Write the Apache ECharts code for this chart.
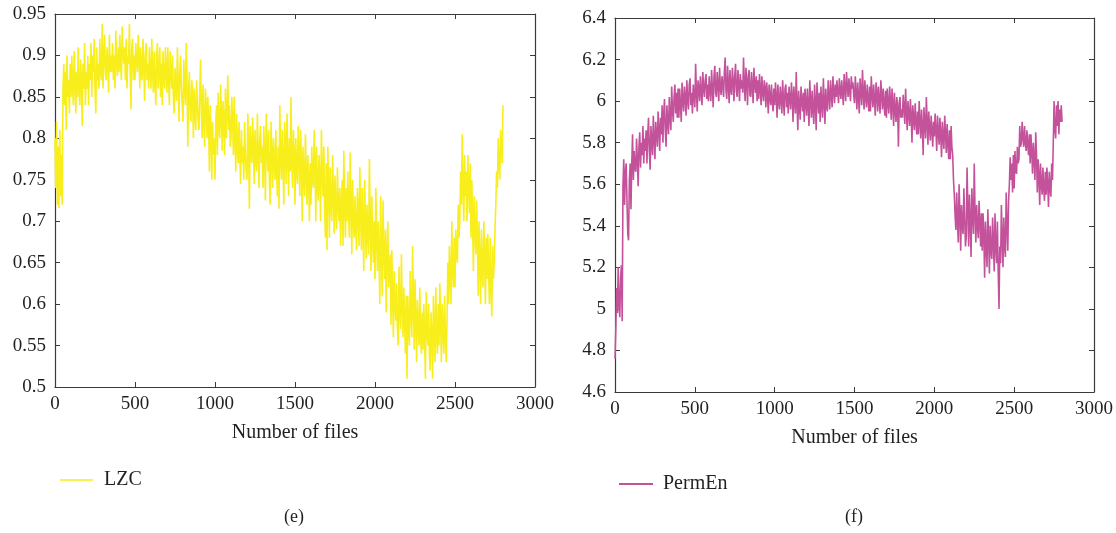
<!DOCTYPE html>
<html>
<head>
<meta charset="utf-8">
<script src="https://cdn.jsdelivr.net/npm/echarts@6/dist/echarts.min.js"></script>
<style>
html,body{margin:0;padding:0;background:#fff;}
#c{width:1116px;height:533px;}
</style>
</head>
<body>
<div id="c"></div>
<script>
// Sampling step (files between stored readings)
const fileStep = 5;

// LZC readings, one per 5 files (0 .. 2800)
const lzcValues = [
0.80,0.74,0.82,0.72,0.79,0.716,0.81,0.73,0.78,0.72, 0.86,0.89,0.84,0.88,0.81,0.90,0.85,0.87,0.83,0.89,
0.85,0.90,0.86,0.84,0.905,0.87,0.83,0.88,0.85,0.91, 0.86,0.84,0.895,0.87,0.815,0.89,0.86,0.915,0.84,0.88,
0.86,0.90,0.84,0.89,0.87,0.915,0.85,0.90,0.88,0.92, 0.86,0.83,0.91,0.87,0.89,0.86,0.92,0.88,0.87,0.938,
0.86,0.90,0.925,0.88,0.87,0.91,0.89,0.855,0.925,0.88, 0.90,0.88,0.915,0.87,0.90,0.86,0.93,0.89,0.875,0.91,
0.88,0.925,0.89,0.87,0.935,0.90,0.89,0.91,0.87,0.92, 0.86,0.90,0.89,0.938,0.88,0.835,0.91,0.92,0.87,0.90,
0.87,0.915,0.89,0.88,0.925,0.90,0.86,0.91,0.88,0.87, 0.92,0.89,0.845,0.90,0.915,0.87,0.89,0.86,0.91,0.88,
0.86,0.92,0.88,0.855,0.905,0.87,0.84,0.90,0.915,0.86, 0.88,0.91,0.85,0.89,0.84,0.905,0.87,0.86,0.91,0.88,
0.855,0.91,0.87,0.84,0.905,0.88,0.86,0.90,0.85,0.83, 0.885,0.86,0.845,0.91,0.87,0.82,0.88,0.90,0.86,0.84,
0.82,0.895,0.86,0.84,0.915,0.87,0.79,0.86,0.88,0.83, 0.82,0.87,0.85,0.80,0.86,0.83,0.81,0.87,0.84,0.82,
0.81,0.86,0.895,0.83,0.80,0.865,0.82,0.79,0.86,0.84, 0.80,0.85,0.82,0.76,0.84,0.81,0.75,0.82,0.78,0.80,
0.75,0.82,0.84,0.78,0.855,0.81,0.80,0.865,0.83,0.785, 0.845,0.82,0.78,0.86,0.80,0.83,0.876,0.81,0.84,0.79,
0.80,0.85,0.82,0.78,0.85,0.80,0.76,0.83,0.79,0.77, 0.82,0.78,0.745,0.81,0.77,0.79,0.75,0.82,0.78,0.76,
0.75,0.83,0.79,0.715,0.815,0.78,0.77,0.825,0.79,0.745, 0.81,0.77,0.76,0.83,0.78,0.74,0.80,0.815,0.77,0.79,
0.74,0.815,0.78,0.725,0.83,0.79,0.76,0.81,0.75,0.72, 0.82,0.78,0.74,0.80,0.77,0.75,0.81,0.76,0.73,0.79,
0.715,0.84,0.78,0.75,0.81,0.77,0.72,0.82,0.79,0.745, 0.83,0.78,0.73,0.80,0.76,0.85,0.77,0.74,0.81,0.78,
0.72,0.80,0.76,0.745,0.815,0.78,0.73,0.81,0.77,0.70, 0.79,0.75,0.73,0.805,0.76,0.72,0.78,0.75,0.70,0.77,
0.72,0.79,0.75,0.74,0.81,0.77,0.70,0.79,0.74,0.725, 0.78,0.75,0.70,0.81,0.76,0.73,0.79,0.72,0.68,0.77,
0.665,0.79,0.74,0.68,0.765,0.72,0.70,0.78,0.73,0.685, 0.755,0.71,0.69,0.765,0.72,0.70,0.74,0.67,0.72,0.75,
0.67,0.785,0.72,0.68,0.74,0.70,0.76,0.71,0.68,0.783, 0.72,0.66,0.75,0.70,0.68,0.73,0.69,0.665,0.74,0.71,
0.67,0.765,0.71,0.665,0.74,0.69,0.64,0.75,0.70,0.655, 0.72,0.68,0.66,0.775,0.70,0.64,0.73,0.68,0.65,0.70,
0.63,0.74,0.68,0.64,0.70,0.66,0.60,0.73,0.67,0.61, 0.725,0.66,0.63,0.69,0.59,0.66,0.70,0.62,0.64,0.66,
0.575,0.665,0.61,0.56,0.64,0.60,0.58,0.625,0.57,0.55, 0.645,0.59,0.57,0.66,0.60,0.56,0.62,0.58,0.54,0.61,
0.51,0.61,0.57,0.55,0.64,0.59,0.56,0.67,0.60,0.545, 0.63,0.58,0.53,0.605,0.57,0.55,0.62,0.56,0.54,0.59,
0.545,0.60,0.56,0.51,0.615,0.57,0.55,0.60,0.54,0.52, 0.59,0.56,0.51,0.61,0.57,0.53,0.62,0.56,0.54,0.60,
0.55,0.625,0.58,0.53,0.60,0.57,0.54,0.61,0.56,0.53, 0.58,0.65,0.60,0.67,0.63,0.60,0.70,0.64,0.62,0.68,
0.62,0.69,0.66,0.65,0.72,0.68,0.70,0.76,0.72,0.805, 0.74,0.70,0.78,0.73,0.76,0.70,0.78,0.74,0.71,0.77,
0.68,0.75,0.70,0.64,0.73,0.69,0.66,0.725,0.68,0.61, 0.70,0.65,0.60,0.69,0.64,0.62,0.70,0.66,0.60,0.68,
0.63,0.685,0.64,0.60,0.68,0.62,0.585,0.67,0.63,0.65, 0.69,0.72,0.76,0.74,0.80,0.77,0.75,0.81,0.79,0.77,
0.84
];

// PermEn readings, one per 5 files (0 .. 2800)
const permEnValues = [
4.76,4.90,5.10,4.98,5.20,5.02,4.96,5.15,5.21,4.94, 5.60,5.72,5.50,5.66,5.70,5.52,5.36,5.33,5.62,5.70,
5.48,5.70,5.84,5.62,5.76,5.68,5.66,5.82,5.72,5.59, 5.78,5.85,5.68,5.80,5.74,5.88,5.70,5.82,5.76,5.86,
5.70,5.84,5.92,5.76,5.67,5.88,5.80,5.74,5.93,5.82, 5.72,5.90,5.84,5.78,5.95,5.86,5.76,5.92,5.84,5.98,
5.80,5.94,6.01,5.86,5.78,5.98,5.90,5.84,6.02,5.92, 5.86,6.07,5.96,5.90,6.02,6.08,5.94,6.04,5.92,6.06,
5.92,6.06,5.98,5.90,6.09,6.00,5.95,6.07,6.02,5.93, 6.10,6.00,5.96,6.08,6.11,5.98,6.04,5.94,6.08,6.02,
5.97,6.18,6.04,5.95,6.10,6.06,6.00,6.12,6.04,5.98, 6.14,6.06,6.02,6.10,6.13,6.01,6.08,6.00,6.12,6.05,
6.00,6.15,6.06,5.97,6.12,6.17,6.04,6.02,6.14,6.08, 6.00,6.16,6.06,6.03,6.12,6.08,6.02,6.14,6.21,6.05,
6.01,6.17,6.08,5.99,6.15,6.06,6.03,6.16,6.10,6.00, 6.12,6.18,6.05,6.02,6.15,6.08,6.00,6.13,6.06,6.10,
6.04,6.21,6.08,6.00,6.16,6.10,5.98,6.12,6.15,6.03, 6.02,6.14,6.07,5.99,6.16,6.08,6.04,6.12,6.00,6.10,
6.01,6.13,6.06,5.98,6.12,6.04,6.00,6.10,6.06,5.97, 6.09,6.03,5.94,6.08,6.02,5.98,6.08,6.00,5.95,6.06,
5.98,6.09,6.02,5.92,6.08,6.00,5.96,6.07,6.02,5.94, 6.10,6.00,5.93,6.06,6.08,5.97,6.04,5.94,6.07,6.01,
5.96,6.09,6.02,5.90,6.07,6.00,5.94,6.14,5.99,5.86, 6.05,5.98,5.91,6.07,6.00,5.95,6.04,5.90,6.06,5.99,
5.93,6.06,5.98,5.88,6.10,6.00,5.92,6.05,5.96,5.89, 6.08,5.99,5.86,6.09,6.01,5.94,6.04,5.90,6.07,5.98,
5.92,6.11,6.00,5.89,6.06,5.98,5.95,6.10,6.02,5.96, 6.10,6.03,5.97,6.12,6.05,5.99,6.08,6.02,6.10,6.04,
5.99,6.11,6.05,6.01,6.10,6.04,5.98,6.13,6.06,6.00, 6.14,6.07,6.02,6.11,6.05,6.00,6.12,6.06,6.09,6.03,
5.99,6.12,6.04,5.96,6.09,6.02,5.94,6.11,6.05,5.98, 6.15,6.04,5.96,6.10,6.02,5.97,6.08,6.01,5.95,6.07,
5.95,6.12,6.03,5.97,6.08,6.01,5.93,6.09,6.04,5.95, 6.07,6.00,5.94,6.10,6.03,5.96,6.06,5.99,5.93,6.05,
5.92,6.06,5.99,5.94,6.07,6.00,5.91,6.06,5.98,5.88, 6.04,5.96,5.90,6.02,5.97,5.78,5.99,6.02,5.92,5.96,
5.92,6.03,5.97,5.89,6.06,5.95,5.86,6.00,5.94,5.88, 6.01,5.93,5.80,5.98,5.92,5.86,5.99,5.90,5.84,5.95,
5.84,6.00,5.90,5.82,5.96,5.88,5.74,5.97,5.89,5.82, 6.02,5.90,5.79,5.95,5.87,5.81,5.93,5.86,5.78,5.90,
5.83,5.94,5.86,5.76,5.93,5.85,5.79,5.92,5.84,5.73, 5.90,5.82,5.77,5.93,5.84,5.75,5.89,5.80,5.72,5.86,
5.72,5.88,5.78,5.74,5.62,5.55,5.45,5.38,5.56,5.42, 5.32,5.60,5.46,5.28,5.50,5.40,5.36,5.58,5.44,5.30,
5.35,5.68,5.48,5.30,5.55,5.42,5.25,5.58,5.45,5.36, 5.70,5.46,5.32,5.50,5.40,5.34,5.52,5.42,5.30,5.46,
5.28,5.46,5.36,5.15,5.42,5.30,5.20,5.48,5.34,5.17, 5.40,5.28,5.24,5.44,5.32,5.18,5.46,5.30,5.22,5.42,
5.18,5.00,5.30,5.22,5.50,5.34,5.20,5.44,5.30,5.25, 5.56,5.40,5.28,5.52,5.60,5.73,5.62,5.70,5.56,5.74,
5.58,5.76,5.66,5.65,5.78,5.70,5.72,5.88,5.78,5.80, 5.90,5.82,5.78,5.88,5.80,5.76,5.86,5.79,5.74,5.84,
5.70,5.84,5.76,5.65,5.80,5.72,5.62,5.85,5.74,5.56, 5.72,5.64,5.50,5.70,5.60,5.55,5.68,5.58,5.52,5.66,
5.55,5.68,5.60,5.49,5.66,5.58,5.54,5.70,5.62,5.80, 6.00,5.86,5.82,5.98,5.88,6.00,5.84,5.96,5.90,5.98,
5.90
];

const seriesNames = ['LZC', 'PermEn'];
const captions = ['(e)', '(f)'];
const xAxisTitle = 'Number of files';

const lzcYTicks = {min: 0.5, max: 0.95, interval: 0.05};
const permEnYTicks = {min: 4.6, max: 6.4, interval: 0.2};
const xTicks = {min: 0, max: 3000, interval: 500};

function toPairs(vals) {
  return vals.map((v, i) => [i * fileStep, v]);
}

const FONT = '"Liberation Serif", "DejaVu Serif", serif';
const AX = '#3a3a3a';
const TXT = '#231f20';

function plainX(v) { return String(v); }
function fmtTrim(v) { return String(parseFloat(v.toFixed(2))); }

function xAxes(gi) {
  return [
    {
      type: 'value', gridIndex: gi, position: 'bottom',
      min: xTicks.min, max: xTicks.max, interval: xTicks.interval,
      name: xAxisTitle, nameLocation: 'middle', nameGap: 36,
      nameTextStyle: {fontFamily: FONT, fontSize: 20, color: TXT},
      axisLine: {show: true, onZero: false, lineStyle: {color: AX, width: 1.2}},
      axisTick: {show: true, inside: true, length: 5, lineStyle: {color: AX}},
      axisLabel: {fontFamily: FONT, fontSize: 19, color: TXT, margin: 8, formatter: plainX},
      splitLine: {show: false}
    },
    {
      type: 'value', gridIndex: gi, position: 'top',
      min: xTicks.min, max: xTicks.max, interval: xTicks.interval,
      axisLine: {show: true, onZero: false, lineStyle: {color: AX, width: 1.2}},
      axisTick: {show: true, inside: true, length: 5, lineStyle: {color: AX}},
      axisLabel: {show: false},
      splitLine: {show: false}
    }
  ];
}

function yAxes(gi, t) {
  return [
    {
      type: 'value', gridIndex: gi, position: 'left',
      min: t.min, max: t.max, interval: t.interval,
      axisLine: {show: true, onZero: false, lineStyle: {color: AX, width: 1.2}},
      axisTick: {show: true, inside: true, length: 5, lineStyle: {color: AX}},
      axisLabel: {fontFamily: FONT, fontSize: 19, color: TXT, margin: 9, formatter: fmtTrim},
      splitLine: {show: false}
    },
    {
      type: 'value', gridIndex: gi, position: 'right',
      min: t.min, max: t.max, interval: t.interval,
      axisLine: {show: true, onZero: false, lineStyle: {color: AX, width: 1.2}},
      axisTick: {show: true, inside: true, length: 5, lineStyle: {color: AX}},
      axisLabel: {show: false},
      splitLine: {show: false}
    }
  ];
}

const chart = echarts.init(document.getElementById('c'), null, {renderer: 'canvas'});
chart.setOption({
  animation: false,
  backgroundColor: '#ffffff',
  grid: [
    {left: 55, top: 14, width: 480, height: 373},
    {left: 615, top: 18, width: 480, height: 374}
  ],
  xAxis: [...xAxes(0), ...xAxes(1)],
  yAxis: [...yAxes(0, lzcYTicks), ...yAxes(1, permEnYTicks)],
  legend: [
    {
      data: [seriesNames[0]], left: 55, top: 465, orient: 'horizontal',
      itemWidth: 33, itemHeight: 12, icon: 'path://M0,0 L33,0 L33,1.4 L0,1.4 Z',
      textStyle: {fontFamily: FONT, fontSize: 20, color: TXT, padding: [0, 0, 0, 6]}
    },
    {
      data: [seriesNames[1]], left: 614, top: 469, orient: 'horizontal',
      itemWidth: 34, itemHeight: 12, icon: 'path://M0,0 L34,0 L34,1.8 L0,1.8 Z',
      textStyle: {fontFamily: FONT, fontSize: 20, color: TXT, padding: [0, 0, 0, 5]}
    }
  ],
  graphic: [
    {type: 'text', left: 284, top: 508, style: {text: captions[0], font: '18px ' + FONT, fill: TXT}},
    {type: 'text', left: 845, top: 508, style: {text: captions[1], font: '18px ' + FONT, fill: TXT}}
  ],
  series: [
    {
      name: seriesNames[0], type: 'line', xAxisIndex: 0, yAxisIndex: 0,
      data: toPairs(lzcValues), symbol: 'none', sampling: null,
      lineStyle: {color: '#f8ee1c', width: 1.6}, itemStyle: {color: '#f8ee1c'}
    },
    {
      name: seriesNames[1], type: 'line', xAxisIndex: 2, yAxisIndex: 2,
      data: toPairs(permEnValues), symbol: 'none', sampling: null,
      lineStyle: {color: '#c4529b', width: 1.6}, itemStyle: {color: '#c4529b'}
    }
  ]
});
</script>
</body>
</html>
